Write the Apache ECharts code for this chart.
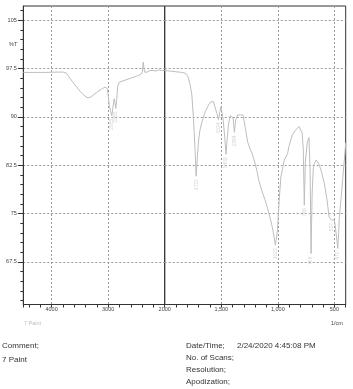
<!DOCTYPE html>
<html><head><meta charset="utf-8">
<script src="https://cdn.jsdelivr.net/npm/echarts@6/dist/echarts.min.js"></script>
<style>html,body{margin:0;padding:0;background:#fff}#c{width:353px;height:389px}</style>
</head><body><div id="c"></div>
<script>
// Spectrum (wavenumber in 1/cm, transmittance in %T)
const wavenumbers = [4500,4300,4100,3900,3800,3770,3740,3676,3600,3558,3500,3441,3390,3352,3300,3264,3200,3145,3100,3057,3030,3016,3000,2980,2955,2935,2915,2895,2880,2865,2850,2830,2800,2700,2600,2500,2420,2395,2380,2365,2350,2320,2300,2260,2230,2200,2150,2100,2060,2030,2000,
  1950,1900,1850,1820,1800,1790,1775,1760,1746,1731,1722,1712,1702,1690,1671,1642,1613,1595,1583,1570,1562,1550,1538,1524,1512,1503,1495,1485,1470,1458,1448,1435,1420,1405,1395,1384,1372,1355,1330,1307,1287,1266,1245,1227,1205,1183,1169,1139,1115,1094,1071,1050,1036,1022,1010,1003,988,973,943,914,902,872,843,814,800,785,775,766,757,740,725,715,706,697,685,662,640,618,589,565,547,527,515,500,485,470,462,456,440,425,405,400];
const transmittance = [96.9,96.9,96.9,96.95,96.95,97.1,96.8,96.0,95.1,94.66,94.0,93.48,93.1,92.96,93.1,93.4,93.8,94.15,94.4,94.6,94.5,94.4,93.5,91.8,90.8,90.2,91.5,92.8,92.3,91.3,92.5,94.8,95.4,95.7,96.0,96.3,96.6,97.0,98.5,97.4,96.9,97.1,97.0,97.2,96.9,97.2,97.1,97.3,97.2,97.4,97.2,
  97.1,97.0,96.9,96.8,96.4,96.0,95.0,93.4,89.8,84.6,80.8,83.5,86.1,87.8,89.2,90.8,91.8,92.3,92.6,92.4,92.1,91.2,90.5,89.6,90.8,91.6,90.8,89.8,87.0,84.2,86.5,89.0,90.2,90.4,89.8,87.6,89.6,90.3,90.3,90.3,88.2,86.1,85.0,84.3,83.0,81.5,80.2,78.4,77.2,76.05,74.5,73.0,71.7,70.1,71.5,72.5,77.1,80.7,83.3,84.3,85.4,87.2,87.95,88.5,88.2,87.5,85.0,76.3,83.0,86.0,86.8,82.0,68.8,78.0,82.5,83.3,82.8,81.75,79.7,77.1,74.5,74.0,73.8,74.0,72.0,69.6,72.0,74.5,77.5,80.7,84.8,86.0];
// Labelled peaks
const peakWavenumbers = [2935,2865,1722,1524,1458,1384,1022,766,706,527,470];
const peakTransmittance = [90.2,91.3,80.8,89.6,84.2,87.6,70.1,76.3,68.8,74.0,69.6];
// Ticks
const yMajorTicks = [67.5,75,82.5,90,97.5,105];
const yMinorTicks = [61.5,63,64.5,66,69,70.5,72,73.5,76.5,78,79.5,81,84,85.5,87,88.5,91.5,93,94.5,96,99,100.5,102,103.5,106.5];
const xRightTicks = [1900,1800,1700,1600,1500,1400,1300,1200,1100,1000,900,800,700,600,500,400];
const xRightLabels = [1500,1000,500];
const sampleName = '7 Paint';
const yLabel = '%T';
const xUnit = '1/cm';
const infoLeft = ['Comment;', '7 Paint'];
const infoRight = ['Date/Time;', 'No. of Scans;', 'Resolution;', 'Apodization;'];
const dateTime = '2/24/2020 4:45:08 PM';

const leftData = [], rightData = [];
wavenumbers.forEach((w, i) => {
  if (w >= 2000) leftData.push([w, transmittance[i]]);
  if (w <= 2000) rightData.push([w, transmittance[i]]);
});
const peaksLeft = [], peaksRight = [];
peakWavenumbers.forEach((w, i) => {
  (w > 2000 ? peaksLeft : peaksRight).push([w, peakTransmittance[i]]);
});

const FF = '"Liberation Sans", Arial, sans-serif';
const Y_MIN = 60.9, Y_MAX = 107.2;
const dashed = { color: '#9a9a9a', type: [2, 2], width: 1 };
const axisColor = '#333';
const smallText = { fontSize: 5.5, color: '#444', fontFamily: FF };

function infoTitle(text, left, top, size, color) {
  return { text, left, top, padding: 0, textStyle: { fontSize: size, fontWeight: 'normal', color, fontFamily: FF } };
}

const peakLabel = {
  show: true, position: 'bottom', distance: 3, rotate: 90, align: 'right', verticalAlign: 'middle',
  formatter: p => String(p.value[0]), fontSize: 5, color: '#c8c8c8', fontFamily: FF
};

const chart = echarts.init(document.getElementById('c'), null, { renderer: 'canvas' });
chart.setOption({
  animation: false,
  backgroundColor: '#fff',
  title: [
    infoTitle(yLabel, 9, 41.5, 5.5, '#444'),
    infoTitle(xUnit, 331, 320, 5.5, '#444'),
    infoTitle(infoLeft[0], 2, 341.5, 8, '#333'),
    infoTitle(infoLeft[1], 2, 355.5, 8, '#333'),
    infoTitle(infoRight[0], 186, 341.5, 8, '#333'),
    infoTitle(dateTime, 237, 341.5, 8, '#333'),
    infoTitle(infoRight[1], 186, 354, 8, '#333'),
    infoTitle(infoRight[2], 186, 366, 8, '#333'),
    infoTitle(infoRight[3], 186, 378, 8, '#333')
  ],
  legend: {
    data: [sampleName], left: 18, top: 320, padding: 0, itemWidth: 0, itemHeight: 0,
    selectedMode: false, textStyle: { fontSize: 5.5, color: '#bdbdbd', fontFamily: FF }
  },
  grid: [
    { left: 23.3, right: 353 - 164.7, top: 6, bottom: 84.5, show: true, borderColor: axisColor, borderWidth: 1, backgroundColor: 'transparent', outerBoundsMode: 'none' },
    { left: 164.7, right: 353 - 345.7, top: 6, bottom: 84.5, show: true, borderColor: axisColor, borderWidth: 1, backgroundColor: 'transparent', outerBoundsMode: 'none' }
  ],
  xAxis: [
    {
      gridIndex: 0, type: 'value', position: 'bottom', inverse: true, min: 2000, max: 4500, interval: 1000,
      axisLine: { show: true, lineStyle: { color: axisColor } },
      axisTick: { show: true, inside: false, length: 3, lineStyle: { color: axisColor } },
      minorTick: { show: true, splitNumber: 5, length: 3, lineStyle: { color: axisColor } },
      axisLabel: Object.assign({ margin: 2, formatter: v => (v % 1000 === 0 ? String(v) : '') }, smallText),
      splitLine: { show: true, showMinLine: false, showMaxLine: false, lineStyle: dashed }
    },
    {
      gridIndex: 1, type: 'value', position: 'bottom', inverse: true, min: 400, max: 2000,
      axisLine: { show: true, lineStyle: { color: axisColor } },
      axisTick: { show: true, inside: false, length: 3, customValues: xRightTicks, lineStyle: { color: axisColor } },
      axisLabel: Object.assign({ margin: 2, customValues: xRightLabels }, smallText),
      splitLine: { show: false }
    },
    {
      gridIndex: 1, type: 'value', position: 'bottom', inverse: true, min: 400, max: 2000,
      axisLine: { show: false }, axisLabel: { show: false },
      axisTick: { show: false, customValues: xRightLabels },
      splitLine: { show: true, lineStyle: dashed }
    }
  ],
  yAxis: [
    {
      gridIndex: 0, type: 'value', position: 'left', min: Y_MIN, max: Y_MAX,
      axisLine: { show: true, lineStyle: { color: axisColor } },
      axisTick: { show: true, length: 5.5, customValues: yMajorTicks, lineStyle: { color: axisColor } },
      axisLabel: Object.assign({ margin: 6.5, customValues: yMajorTicks }, smallText),
      splitLine: { show: true, lineStyle: dashed }
    },
    {
      gridIndex: 0, type: 'value', position: 'left', min: Y_MIN, max: Y_MAX,
      axisLine: { show: false }, axisLabel: { show: false }, splitLine: { show: false },
      axisTick: { show: true, length: 3, customValues: yMinorTicks, lineStyle: { color: axisColor } }
    },
    {
      gridIndex: 1, type: 'value', position: 'left', min: Y_MIN, max: Y_MAX,
      axisLine: { show: false }, axisLabel: { show: false },
      axisTick: { show: false, customValues: yMajorTicks },
      splitLine: { show: true, lineStyle: dashed }
    }
  ],
  series: [
    { name: sampleName, type: 'line', xAxisIndex: 0, yAxisIndex: 0, data: leftData, showSymbol: false, symbol: 'none',
      lineStyle: { color: '#bdbdbd', width: 1 }, itemStyle: { color: '#bdbdbd' }, z: 3 },
    { name: sampleName, type: 'line', xAxisIndex: 1, yAxisIndex: 2, data: rightData, showSymbol: false, symbol: 'none',
      lineStyle: { color: '#bdbdbd', width: 1 }, itemStyle: { color: '#bdbdbd' }, z: 3 },
    { name: 'peaksL', type: 'scatter', xAxisIndex: 0, yAxisIndex: 0, data: peaksLeft, symbolSize: 0, silent: true, label: peakLabel, z: 4 },
    { name: 'peaksR', type: 'scatter', xAxisIndex: 1, yAxisIndex: 2, data: peaksRight, symbolSize: 0, silent: true, label: peakLabel, z: 4 }
  ]
});
</script>
</body></html>
